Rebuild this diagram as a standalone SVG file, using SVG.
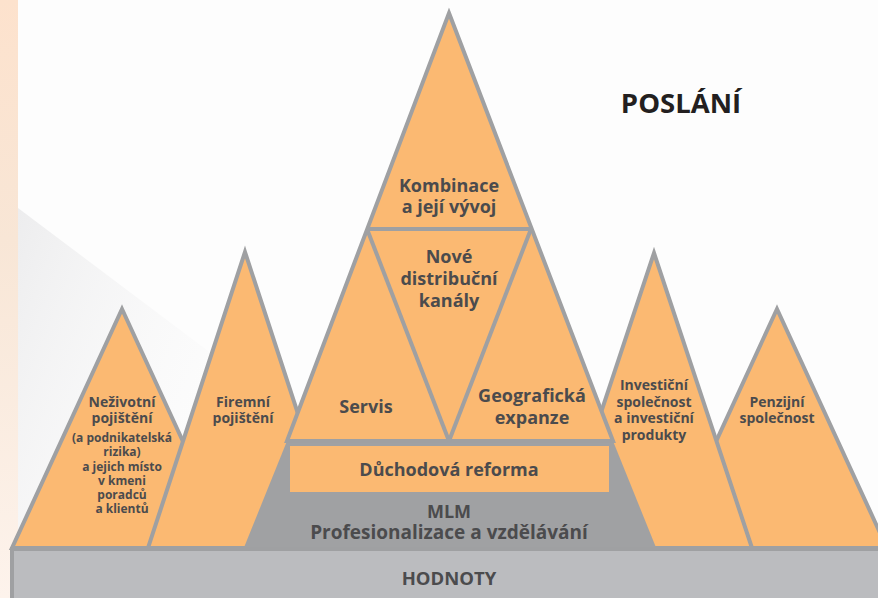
<svg xmlns="http://www.w3.org/2000/svg" width="878" height="598" viewBox="0 0 878 598">
  <defs>
    <linearGradient id="strip" x1="0" y1="0" x2="0" y2="1">
      <stop offset="0" stop-color="#fde2cd"/>
      <stop offset="0.4" stop-color="#f8e6d6"/>
      <stop offset="1" stop-color="#fdf3ec"/>
    </linearGradient>
    <linearGradient id="shade" x1="0" y1="0" x2="1" y2="0.5">
      <stop offset="0" stop-color="#e2e2e4"/>
      <stop offset="1" stop-color="#fafafa" stop-opacity="0"/>
    </linearGradient>
    <style>
      .m { fill: #fbb972; stroke: #9fa0a2; stroke-width: 4; stroke-linejoin: miter; }
      .ln { stroke: #9fa0a2; stroke-width: 4; fill: none; }
      .t { font-family: "Open Sans", "Liberation Sans", sans-serif; font-weight: 700; fill: #4b4b4d; text-anchor: middle; }
      .big { font-size: 18px; }
      .mid { font-size: 14px; }
      .sm { font-size: 12px; }
    </style>
  </defs>

  <!-- background -->
  <rect x="0" y="0" width="878" height="598" fill="#fdfdfd"/>
  <rect x="0" y="0" width="18" height="598" fill="url(#strip)"/>
  <polygon points="18,208 300,420 300,560 18,560" fill="url(#shade)" opacity="0.6"/>

  <!-- back mountains -->
  <g id="nezivotni">
    <polygon class="m" points="122,309 232,548 12,548"/>
    <text class="t mid" x="122" y="407">Neživotní</text>
    <text class="t mid" x="122" y="423">pojištění</text>
    <text class="t sm" x="122" y="442">(a podnikatelská</text>
    <text class="t sm" x="122" y="456">rizika)</text>
    <text class="t sm" x="122" y="471">a jejich místo</text>
    <text class="t sm" x="122" y="485">v kmeni</text>
    <text class="t sm" x="122" y="499">poradců</text>
    <text class="t sm" x="122" y="513">a klientů</text>
  </g>
  <g id="penzijni">
    <polygon class="m" points="777,309 887,548 667,548"/>
    <text class="t mid" x="777" y="407">Penzijní</text>
    <text class="t mid" x="777" y="423">společnost</text>
  </g>
  <g id="firemni">
    <polygon class="m" points="245,252 342,548 148,548"/>
    <text class="t mid" x="243" y="407">Firemní</text>
    <text class="t mid" x="243" y="423">pojištění</text>
  </g>
  <g id="investicni">
    <polygon class="m" points="654,253 752,548 556,548"/>
    <text class="t mid" x="654" y="390">Investiční</text>
    <text class="t mid" x="654" y="407">společnost</text>
    <text class="t mid" x="654" y="423">a investiční</text>
    <text class="t mid" x="654" y="440">produkty</text>
  </g>

  <!-- MLM foundation -->
  <g id="mlm">
    <polygon points="287,441 613,441 657,550 243,550" fill="#a0a1a3"/>
    <text class="t big" x="449" y="518">MLM</text>
    <text class="t" x="449" y="539" style="font-size:19px">Profesionalizace a vzdělávání</text>
  </g>

  <!-- central mountain -->
  <g id="kombinace">
    <polygon class="m" points="449,13 613,441 287,441"/>
    <text class="t big" x="449" y="192">Kombinace</text>
    <text class="t big" x="449" y="213">a její vývoj</text>
  </g>
  <g id="connectors">
    <line class="ln" x1="366" y1="229" x2="532" y2="229"/>
    <line class="ln" x1="367" y1="229" x2="449" y2="441"/>
    <line class="ln" x1="531" y1="229" x2="449" y2="441"/>
  </g>
  <g id="kanaly">
    <text class="t big" x="449" y="263">Nové</text>
    <text class="t big" x="449" y="285">distribuční</text>
    <text class="t big" x="449" y="307">kanály</text>
  </g>
  <g id="servis">
    <text class="t big" x="366" y="413">Servis</text>
  </g>
  <g id="geograficka">
    <text class="t big" x="532" y="402">Geografická</text>
    <text class="t big" x="532" y="424">expanze</text>
  </g>
  <g id="duchodova">
    <rect x="290" y="446" width="319" height="46" fill="#fbb972"/>
    <text class="t big" x="449" y="476">Důchodová reforma</text>
  </g>

  <!-- base -->
  <g id="hodnoty">
    <rect x="12" y="549" width="880" height="60" fill="#bbbcbf" stroke="#9fa0a2" stroke-width="4"/>
    <text class="t" x="449" y="585" style="font-size:18.5px">HODNOTY</text>
  </g>

  <g id="poslani">
    <text x="681" y="113" style="font-family:'Open Sans','Liberation Sans',sans-serif;font-weight:700;font-size:27.5px;fill:#231f20;text-anchor:middle">POSLÁNÍ</text>
  </g>
</svg>
